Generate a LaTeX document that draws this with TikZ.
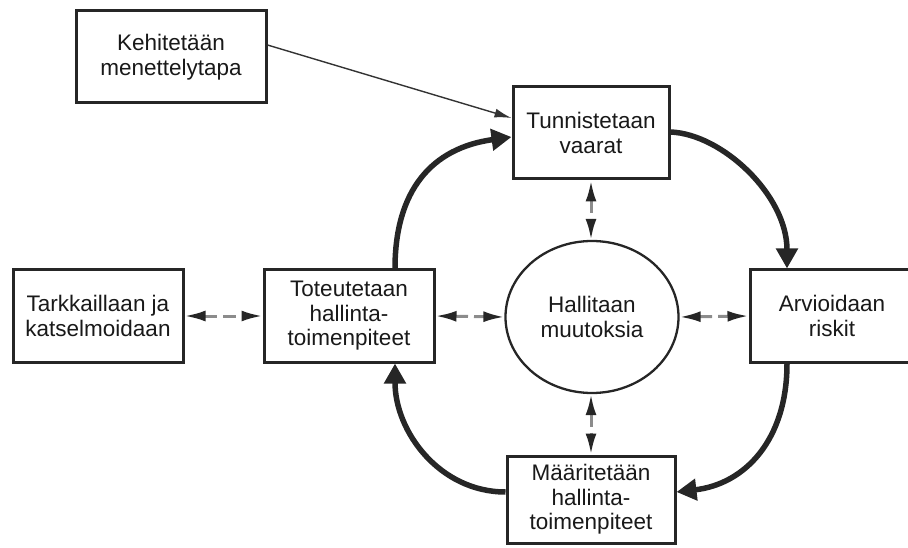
\documentclass[tikz,border=0pt]{standalone}
\usepackage{fontspec}
\setmainfont{Liberation Sans}
\usetikzlibrary{arrows.meta,shapes.geometric}
\tikzset{
  box/.style={draw=black!85, line width=3pt, fill=white, inner sep=0pt, align=center,
    font=\fontsize{22.5}{24.5}\selectfont, text=black!90},
  oval/.style={ellipse, draw=black!85, line width=2.3pt, inner sep=0pt, align=center,
    minimum width=173pt, minimum height=152pt, font=\fontsize{22.5}{24.5}\selectfont, text=black!90},
  flow/.style={line width=5.5pt, draw=black!85, -{Triangle[length=20pt,width=21pt]}},
  thin/.style={line width=1.4pt, draw=black!80, -{Latex[length=17pt,width=9pt]}},
  dasharrow/.style={line width=3pt, draw=black!45, dash pattern=on 13pt off 6pt,
    {Latex[length=21pt,width=11pt,color=black!85]}-{Latex[length=21pt,width=11pt,color=black!85]}}
}
\begin{document}
\begin{tikzpicture}[x=1pt,y=-1pt]
\useasboundingbox (0,0) rectangle (908,548);
\node[box, minimum width=190pt, minimum height=92pt] (keh) at (171,57) {Kehitetään\\menettelytapa};
\node[box, minimum width=156pt, minimum height=92pt] (tun) at (591,133) {Tunnistetaan\\vaarat};
\node[box, minimum width=170pt, minimum height=92pt] (tar) at (98,316) {Tarkkaillaan ja\\katselmoidaan};
\node[box, minimum width=170pt, minimum height=92pt] (tot) at (349,316) {Toteutetaan\\hallinta-\\toimenpiteet};
\node[oval] (circ) at (592,317) {Hallitaan\\muutoksia};
\node[box, minimum width=164pt, minimum height=92pt] (arv) at (832,316) {Arvioidaan\\riskit};
\node[box, minimum width=168pt, minimum height=87pt] (maa) at (591,499.5) {Määritetään\\hallinta-\\toimenpiteet};

% thin arrow
\draw[thin] ([yshift=12pt]keh.east) -- ([yshift=15pt]tun.west);

% thick cycle
\draw[flow] ([xshift=46pt]tot.north) .. controls (395,190) and (432,148) .. ([yshift=-4pt]tun.west);
\draw[flow] ([yshift=1pt]tun.east) .. controls (722,134) and (787,195) .. ([xshift=-45pt]arv.north);
\draw[flow] ([xshift=-45pt]arv.south) .. controls (787,440) and (745,484) .. ([yshift=7.5pt]maa.east);
\draw[flow] ([yshift=7.5pt]maa.west) .. controls (440,492) and (395,432) .. ([xshift=46pt]tot.south);

% dashed double arrows
\draw[dasharrow] (tar.east) -- (tot.west);
\draw[dasharrow] (tot.east) -- (circ.west);
\draw[dasharrow] (circ.east) -- (arv.west);
\draw[dasharrow] (tun.south) -- (tun.south |- circ.north);
\draw[dasharrow] (maa.north |- circ.south) -- (maa.north);
\end{tikzpicture}
\end{document}
